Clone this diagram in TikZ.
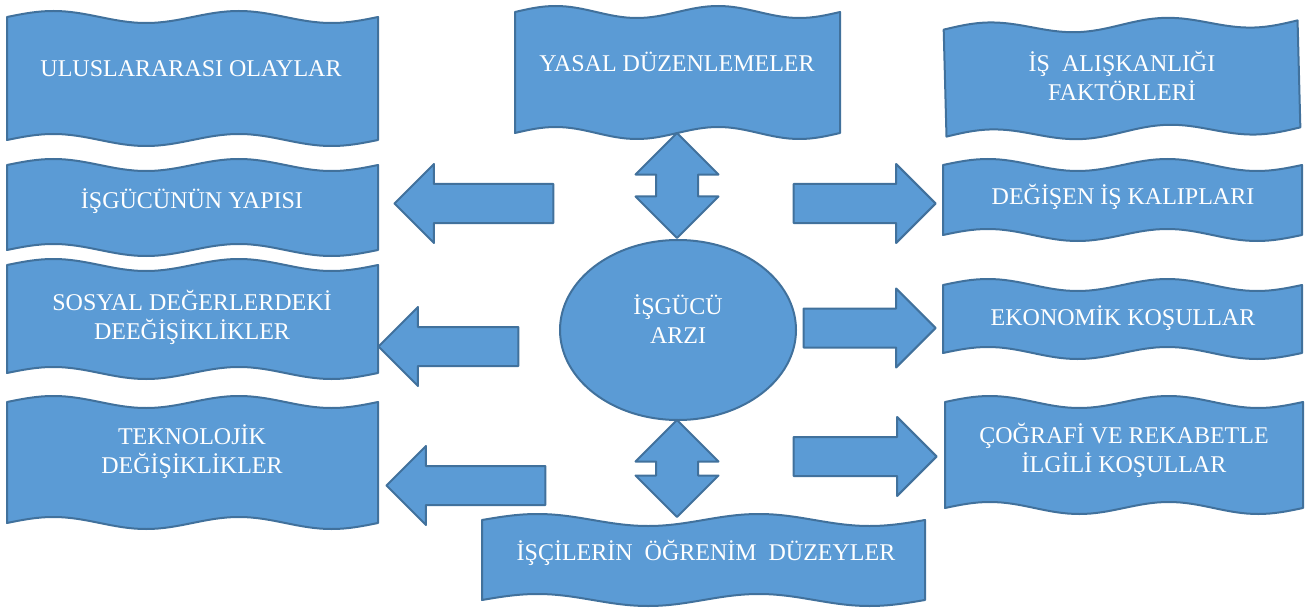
\documentclass[tikz,border=0pt]{standalone}
\usepackage{fontspec}
\setmainfont{Liberation Serif}
\usetikzlibrary{shapes.geometric,shapes.arrows}
\definecolor{bluefill}{HTML}{5B9BD5}
\definecolor{blueline}{HTML}{41719C}
\newcommand{\lbl}{\fontsize{12}{14.5}\selectfont}
% wave banner, corners (x0,y0) and (x1,y1)
\newcommand{\wavebox}[5][]{%
  \pgfmathsetmacro{\wq}{(#4-#2)/8}%
  \filldraw[banner,#1] (#2,#3)
    sin ++(\wq,-6) cos ++(\wq,6) sin ++(\wq,6) cos ++(\wq,-6)
    sin ++(\wq,-6) cos ++(\wq,6) sin ++(\wq,6) cos ++(\wq,-6)
    -- (#4,#5)
    sin ++(-\wq,6) cos ++(-\wq,-6) sin ++(-\wq,-6) cos ++(-\wq,6)
    sin ++(-\wq,6) cos ++(-\wq,-6) sin ++(-\wq,-6) cos ++(-\wq,6)
    -- cycle;}

\begin{document}
\begin{tikzpicture}[x=0.5pt,y=-0.5pt,
  banner/.style={fill=bluefill,draw=blueline,line width=1pt,line join=round},
  txt/.style={text=white,font=\lbl,align=center,inner sep=0},
  blockarrow/.style={banner,single arrow,inner xsep=0,inner ysep=9.25pt,minimum width=38.5pt,single arrow head extend=10pt,anchor=tip},
  larrow/.style={blockarrow,shape border rotate=180},
  rarrow/.style={blockarrow,shape border rotate=0},
  twoway/.style={banner,double arrow,inner xsep=10pt,inner ysep=0,minimum width=40.5pt,double arrow head extend=10.25pt,shape border rotate=90}]
\useasboundingbox (0,0) rectangle (1307,610);
% banners
\wavebox{7}{17}{378}{140}
\wavebox{515}{12}{840}{133}
\wavebox[rotate around={1.5:(1122,78)}]{945}{25}{1299}{132}
\wavebox{7}{165}{378}{250}
\wavebox{7}{265}{378}{373}
\wavebox{7}{402}{378}{523}
\wavebox{943}{165}{1302}{235}
\wavebox{943}{285}{1302}{353}
\wavebox{945}{402}{1303}{508}
\wavebox{482}{520}{925}{600}
% centre
\node[banner,ellipse,minimum width=118pt,minimum height=90pt] (arzi) at (678,330) {};
\node[twoway,minimum height=52.5pt] (upper) at (677,185.5) {};
\node[twoway,minimum height=48.5pt] (lower) at (677,468.5) {};
% arrows
\node[larrow,minimum height=79.5pt] (toyapi) at (393,203.5) {};
\node[larrow,minimum height=70pt] (tososyal) at (377,346.5) {};
\node[larrow,minimum height=79.5pt] (toteknoloji) at (385,485.5) {};
\node[rarrow,minimum height=71pt] (tokalip) at (937,203.5) {};
\node[rarrow,minimum height=66pt] (toekonomi) at (937,328) {};
\node[rarrow,minimum height=71.5pt] (tocografi) at (938,456.5) {};
% labels
\node[txt] (olaylar) at (191,69) {ULUSLARARASI OLAYLAR};
\node[txt] (yasal) at (677,62) {YASAL DÜZENLEMELER};
\node[txt] (aliskanlik) at (1122,76) {İŞ\ \ ALIŞKANLIĞI\\FAKTÖRLERİ};
\node[txt] (yapi) at (192,201) {İŞGÜCÜNÜN YAPISI};
\node[txt] (sosyal) at (192,317) {SOSYAL DEĞERLERDEKİ\\DEEĞİŞİKLİKLER};
\node[txt] (teknoloji) at (192,452) {TEKNOLOJİK\\DEĞİŞİKLİKLER};
\node[txt] (kalip) at (1123,197) {DEĞİŞEN İŞ KALIPLARI};
\node[txt] (ekonomi) at (1123,318) {EKONOMİK KOŞULLAR};
\node[txt] (cografi) at (1124,450) {ÇOĞRAFİ VE REKABETLE\\İLGİLİ KOŞULLAR};
\node[txt] (ogrenim) at (706,553) {İŞÇİLERİN\ \ ÖĞRENİM\ \ DÜZEYLER};
\node[txt] (arzitxt) at (678,319) {İŞGÜCÜ\\ARZI};
\end{tikzpicture}
\end{document}
